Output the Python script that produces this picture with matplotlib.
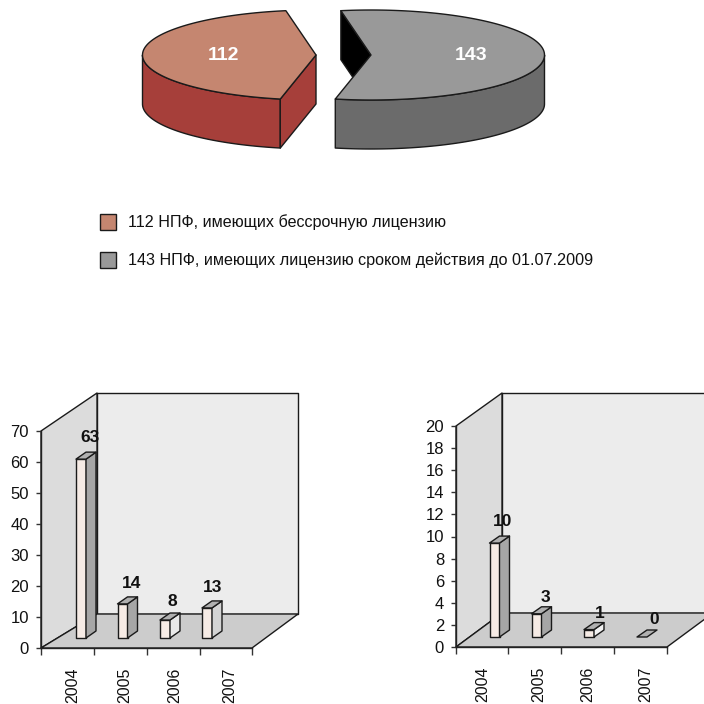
import numpy as np
import matplotlib
matplotlib.use("Agg")
import matplotlib.pyplot as plt
from matplotlib.patches import Polygon, Rectangle

# ---- data ----
pie_values = [112, 143]
pie_labels = ["112", "143"]
legend_labels = ["112 НПФ, имеющих бессрочную лицензию",
                 "143 НПФ, имеющих лицензию сроком действия до 01.07.2009"]
years = ["2004", "2005", "2006", "2007"]
left_labels = ["63", "14", "8", "13"]
left_heights = [57.7, 11.0, 5.8, 9.7]      # heights as read against the axis
right_labels = ["10", "3", "1", "0"]
right_heights = [8.5, 2.1, 0.67, 0.0]      # heights as read against the axis
left_ticks = list(range(0, 71, 10))
right_ticks = list(range(0, 21, 2))

# ---- style / layout ----
FONT = ["Liberation Sans Narrow", "Liberation Sans"]
plt.rcParams["font.family"] = FONT
W = 704
EDGE = "#1a1a1a"
fig = plt.figure(figsize=(7.04, 7.04), dpi=100, facecolor="white")
root = fig.add_axes([0, 0, 1, 1])
root.set_xlim(0, W); root.set_ylim(W, 0); root.axis("off")

def poly(pts, fc, z=2, ec=EDGE, lw=1.0):
    root.add_patch(Polygon(pts, closed=True, fc=fc, ec=ec, lw=lw, zorder=z, joinstyle="round"))

# ---- pie ----
A, B, DEPTH = 173.5, 45.0, 49
START = 100.0
def ell(cx, cy, t):
    t = np.radians(t)
    return np.column_stack([cx + A*np.cos(t), cy - B*np.sin(t)])

sweep = 360.0 * pie_values[0] / sum(pie_values)
# left slice
cx, cy = 316, 55
t = np.linspace(START, START + sweep, 120)
arc = ell(cx, cy, t)
front = ell(cx, cy, np.linspace(180, START + sweep, 80))
poly(np.vstack([front, (front + [0, DEPTH])[::-1]]), "#a63f3a")
e = arc[-1]
poly([e, (cx, cy), (cx, cy + DEPTH), e + [0, DEPTH]], "#a63f3a")
poly(np.vstack([arc, [(cx, cy)]]), "#c58670", z=3)
root.text(223, 56, pie_labels[0], color="white", fontsize=14, fontweight="bold",
          ha="center", va="center", zorder=5)
# right slice
cx, cy = 371, 55
t = np.linspace(START + sweep, START + 360, 160)
arc = ell(cx, cy, t)
s = arc[-1]
poly([s, (cx, cy), (cx, cy + DEPTH), s + [0, DEPTH]], "black", z=1.5)
front = ell(cx, cy, np.linspace(START + sweep, 360, 80))
poly(np.vstack([front, (front + [0, DEPTH])[::-1]]), "#6b6b6b")
poly(np.vstack([arc, [(cx, cy)]]), "#999999", z=3)
root.text(471, 55, pie_labels[1], color="white", fontsize=14, fontweight="bold",
          ha="center", va="center", zorder=5)

# ---- legend ----
for y, c, lab in zip([222, 260], ["#c58670", "#999999"], legend_labels):
    root.add_patch(Rectangle((100, y - 8), 16, 16, fc=c, ec=EDGE, lw=1.0))
    root.text(128, y, lab, fontsize=11.65, color="#111111", ha="left", va="center")

# ---- 3D-looking bar charts ----
def chart(x0, ticks_px, y0, y1, ymax, ticks, heights, labels, bar_x, label_xy, year_x,
          side_cols, wall_dx, wall_dy=34, yt=393):
    xr = ticks_px[-1]
    yb = y0 - wall_dy
    xb = xr + 46
    poly([(x0 + wall_dx, yt), (xb, yt), (xb, yb), (x0 + wall_dx, yb)], "#ececec", z=1)
    poly([(x0, y1), (x0 + wall_dx, yt), (x0 + wall_dx, yb), (x0, y0)], "#dcdcdc", z=1)
    poly([(x0, y0), (x0 + wall_dx, yb), (xb, yb), (xr, y0)], "#cccccc", z=1)

    scale = (y0 - y1) / ymax
    base = y0 - 10
    bw, dx, dy = 10, 10, 7
    for h, bx, lab, (lx, ly), sc in zip(heights, bar_x, labels, label_xy, side_cols):
        top = base - h * scale
        if h > 0:
            poly([(bx, top), (bx + bw, top), (bx + bw, base), (bx, base)], "#f6ebe5", z=4)
            poly([(bx + bw, top), (bx + bw + dx, top - dy), (bx + bw + dx, base - dy), (bx + bw, base)], sc, z=4)
        poly([(bx, top), (bx + dx, top - dy), (bx + bw + dx, top - dy), (bx + bw, top)], "#b0b0b0", z=4)
        root.text(lx, ly, lab, fontsize=12.5, fontweight="bold", color="#111111",
                  ha="center", va="center", zorder=6)

    ax = fig.add_axes([x0 / W, 1 - y0 / W, (xr - x0) / W, (y0 - y1) / W], facecolor="none")
    ax.set_ylim(0, ymax)
    ax.set_xlim(x0, xr)
    ax.set_yticks(ticks)
    ax.set_xticks(ticks_px)
    ax.set_xticklabels([])
    ax.set_xticks(year_x, years, minor=True, rotation=90, fontsize=11.5, color="#111111", va="top", ha="center")
    ax.tick_params(axis="x", which="minor", length=0, pad=14.0)
    ax.tick_params(axis="x", which="major", length=5, width=1, color="#333333")
    ax.tick_params(axis="y", length=3.6, width=1, color="#333333", labelsize=12, labelcolor="#111111", pad=5)
    for s in ["top", "right"]:
        ax.spines[s].set_visible(False)
    for s in ["left", "bottom"]:
        ax.spines[s].set_color("#222222"); ax.spines[s].set_linewidth(1.0)
    ax.patch.set_alpha(0)
    return ax

chart(41, [41, 94, 147, 200, 252], 648, 431, 70, left_ticks, left_heights, left_labels,
      [76, 117.5, 160, 202],
      [(90, 437), (132, 584), (172, 601), (213, 588)],
      [73, 125, 175, 230],
      ["#a6a6a6", "#a6a6a6", "#e9e9e9", "#d4d4d4"], wall_dx=56)

chart(456, [456, 508, 561, 614, 667], 647, 426, 20, right_ticks, right_heights, right_labels,
      [489.5, 531.5, 584, 637],
      [(503, 522), (545, 598), (600, 614), (654, 620)],
      [483, 539, 588, 646],
      ["#a6a6a6", "#a6a6a6", "#f2f2f2", "#cccccc"], wall_dx=46)

fig.savefig("out.png", dpi=100, facecolor="white")
